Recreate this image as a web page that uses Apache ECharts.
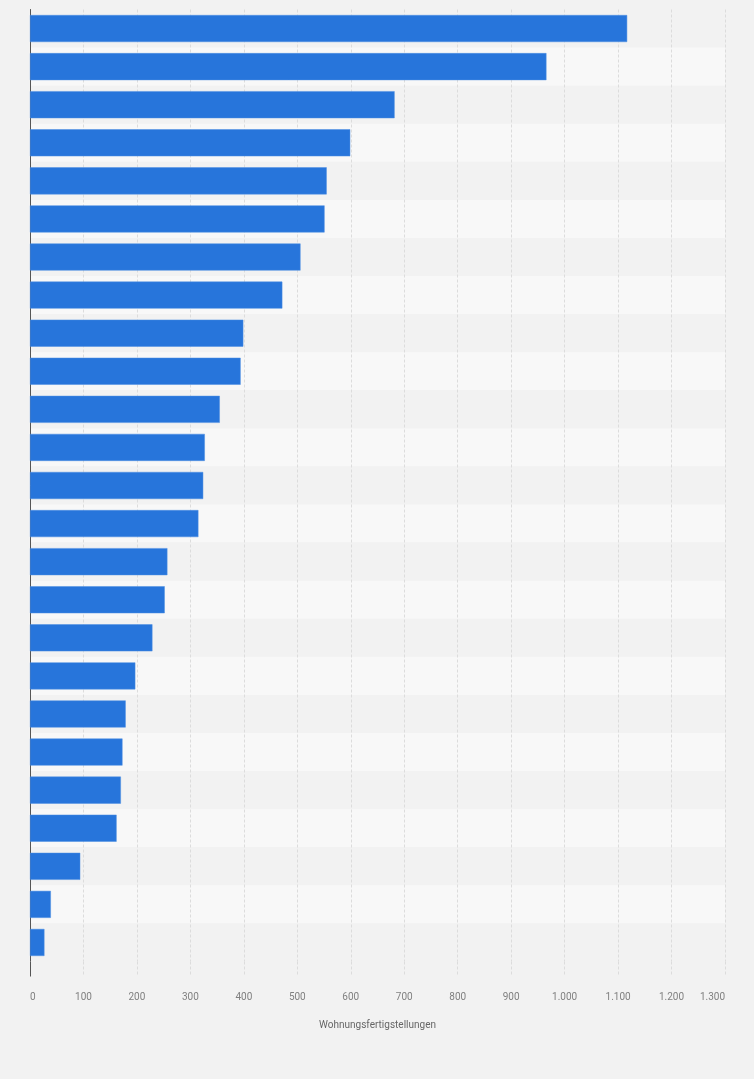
<!DOCTYPE html>
<html>
<head>
    <meta charset="UTF-8">
    <title>Wohnungsfertigstellungen</title>
    <script src="https://cdn.jsdelivr.net/npm/echarts@6/dist/echarts.min.js"></script>
    <style>
        html, body { margin: 0; padding: 0; background: #f2f2f2; }
        #chart { width: 754px; height: 1079px; }
    </style>
</head>
<body>
    <div id="chart"></div>
    <script>
        // category names are not shown in the picture, so plain ranks
        var categories = ['1', '2', '3', '4', '5', '6', '7', '8', '9', '10', '11', '12', '13',
                          '14', '15', '16', '17', '18', '19', '20', '21', '22', '23', '24', '25'];
        var values = [1117, 966, 682, 599, 555, 551, 506, 472, 399, 394, 355, 327, 324,
                      315, 257, 252, 229, 197, 179, 173, 170, 162, 94, 39, 27];
        var axisName = 'Wohnungsfertigstellungen';

        var chart = echarts.init(document.getElementById('chart'), null, {renderer: 'canvas'});

        function deNumber(v) {
            return String(v).replace(/\B(?=(\d{3})+(?!\d))/g, '.');
        }

        chart.setOption({
            backgroundColor: '#f2f2f2',
            animation: false,
            grid: {left: 30, right: 29, top: 9.5, bottom: 117.5, containLabel: false},
            xAxis: {
                type: 'value',
                min: 0,
                max: 1300,
                interval: 100,
                name: axisName,
                nameLocation: 'middle',
                nameGap: 59,
                nameTextStyle: {color: '#666', fontSize: 10, fontFamily: 'Roboto'},
                axisLine: {show: false},
                axisTick: {
                    show: true,
                    length: 15,
                    lineStyle: {color: '#dcdcdc', type: [3, 2], width: 1}
                },
                axisLabel: {
                    color: '#808080',
                    fontSize: 10,
                    fontFamily: 'Roboto',
                    margin: 31,
                    alignMinLabel: 'left',
                    alignMaxLabel: 'right',
                    formatter: deNumber
                },
                splitLine: {show: true, lineStyle: {color: '#dcdcdc', type: [3, 2], width: 1}}
            },
            yAxis: {
                type: 'category',
                data: categories,
                inverse: true,
                axisLine: {show: true, lineStyle: {color: '#555', width: 1}},
                axisTick: {show: false},
                axisLabel: {show: false},
                splitArea: {show: true, areaStyle: {color: ['#f2f2f2', '#f8f8f8']}}
            },
            series: [{
                type: 'bar',
                data: values,
                barCategoryGap: '29%',
                itemStyle: {color: '#2775db', borderColor: '#4d8fe3', borderWidth: 0.5}
            }]
        });

        // the value axis' zero line runs a little below the plot, as in the picture
        var zeroX = chart.convertToPixel({xAxisIndex: 0}, 0);
        var bottomY = 1079 - 117.5;
        chart.setOption({
            graphic: [{
                type: 'line',
                silent: true,
                z: 10,
                shape: {x1: Math.round(zeroX) + 0.5, y1: bottomY, x2: Math.round(zeroX) + 0.5, y2: bottomY + 15},
                style: {stroke: '#555', lineWidth: 1}
            }]
        });
    </script>
</body>
</html>
